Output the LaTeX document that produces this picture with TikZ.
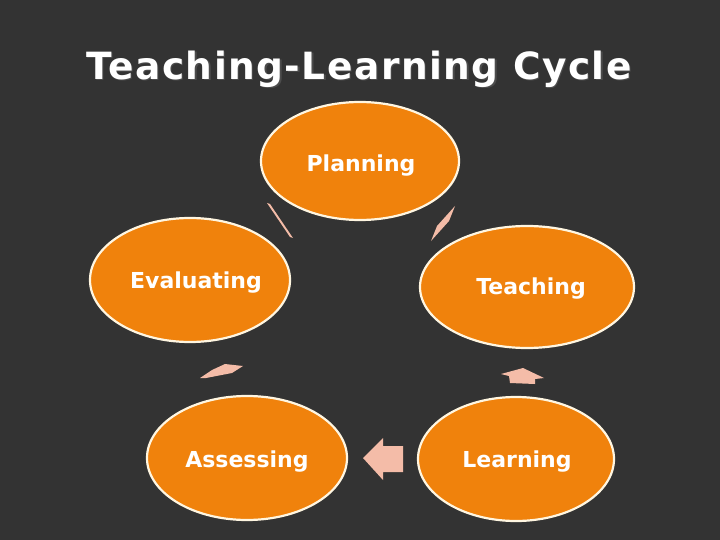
\documentclass[tikz,border=0pt]{standalone}
\usepackage{fontspec}
\setmainfont{DejaVu Sans}
\newfontfamily\titlefont[LetterSpace=4]{DejaVu Sans}
\newfontfamily\stagefont{DejaVu Sans}
\usepackage{xcolor}
\usepackage{tikz}
\usetikzlibrary{shapes.geometric,positioning}

\definecolor{bgdark}{RGB}{51,51,51}
\definecolor{stageorange}{RGB}{240,130,12}
\definecolor{rimcream}{RGB}{255,246,225}
\definecolor{arrowpink}{RGB}{244,188,168}

\begin{document}
\begin{tikzpicture}[x=1pt, y=-1pt,
    stage/.style={ellipse, draw=rimcream, line width=2.2pt, fill=stageorange, inner sep=0pt},
    stagelbl/.style={text=white, font=\stagefont\bfseries\fontsize{22}{24}\selectfont},
    flow/.style={fill=arrowpink, draw=none}]

% Background
\fill[bgdark] (0,0) rectangle (720,540);
\useasboundingbox (0,0) rectangle (720,540);

% Title
\node[text=black!70, font=\titlefont\bfseries\fontsize{37.5}{42}\selectfont] (shadow) at (360.5,70.5) {Teaching-Learning Cycle};
\node[text=white, font=\titlefont\bfseries\fontsize{37.5}{42}\selectfont] (title) at (359,69) {Teaching-Learning Cycle};

% Stages of the cycle
\node[stage, minimum width=198pt, minimum height=118pt] (plan) at (360,161) {};
\node[stage, minimum width=214pt, minimum height=122pt] (teach) at (527,287) {};
\node[stage, minimum width=196pt, minimum height=124pt] (learn) at (516,459) {};
\node[stage, minimum width=200pt, minimum height=124pt] (assess) at (247,458) {};
\node[stage, minimum width=200pt, minimum height=124pt] (eval) at (190,280) {};

% Stage labels
\node[stagelbl] (planlbl) at (361,166) {Planning};
\node[stagelbl] (teachlbl) at (531,289) {Teaching};
\node[stagelbl] (learnlbl) at (517,462) {Learning};
\node[stagelbl] (assesslbl) at (247,462) {Assessing};
\node[stagelbl] (evallbl) at (196,283) {Evaluating};

% Squashed cycle arrows
\fill[flow] (267,203) -- (270,204) -- (293,238) -- (290,237) -- cycle;
\fill[flow] (455,206) -- (449,221) -- (431,241) -- (437,226) -- cycle;
\fill[flow] (501,374) -- (523,368) -- (544,378) -- (535,379) -- (535,384) -- (510,383) -- (509,376) -- cycle;
\fill[flow] (363,458) -- (383,438) -- (383,446) -- (403,446) -- (403,472) -- (383,472) -- (383,480) -- cycle;
\fill[flow] (200,378) -- (212,370) -- (225,364) -- (243,366) -- (232,373) -- (206,378) -- cycle;

\end{tikzpicture}
\end{document}
